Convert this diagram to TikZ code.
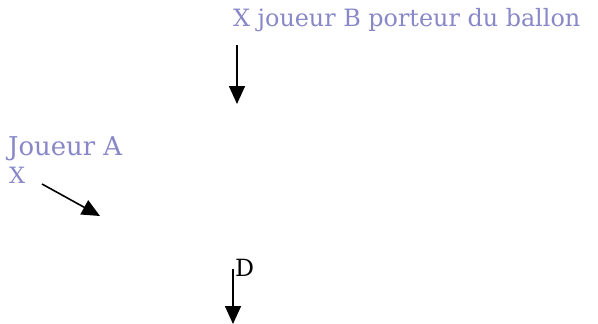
\documentclass[tikz,border=0pt]{standalone}
\usepackage{fontspec}
\setmainfont{DejaVu Serif}
\usetikzlibrary{arrows.meta}
\definecolor{lav}{RGB}{136,136,200}
\tikzset{
  lbl/.style={anchor=base west, inner sep=0pt, text=lav},
  arr/.style={line width=1.6pt, -{Triangle[width=16pt,length=18pt]}},
}
\begin{document}
\begin{tikzpicture}[x=1pt,y=-1pt]
\useasboundingbox (0,0) rectangle (598,324);
\node[lbl] (b) at (233,27) {\resizebox{347pt}{!}{X joueur B porteur du ballon}};
\node[lbl] (a) at (8,155) {\resizebox{114pt}{!}{Joueur A}};
\node[lbl] (ax) at (9,183) {\resizebox{16pt}{!}{X}};
\node[anchor=base west, inner sep=0pt] (d) at (235,276) {\resizebox{19pt}{!}{D}};
\coordinate (b1) at (237,45);
\coordinate (b2) at (237,104);
\coordinate (a1) at (42,184);
\coordinate (a2) at (100,216);
\coordinate (d1) at (233,269);
\coordinate (d2) at (233,324);
\draw[arr] (b1) -- (b2);
\draw[arr] (a1) -- (a2);
\draw[arr] (d1) -- (d2);
\end{tikzpicture}
\end{document}
